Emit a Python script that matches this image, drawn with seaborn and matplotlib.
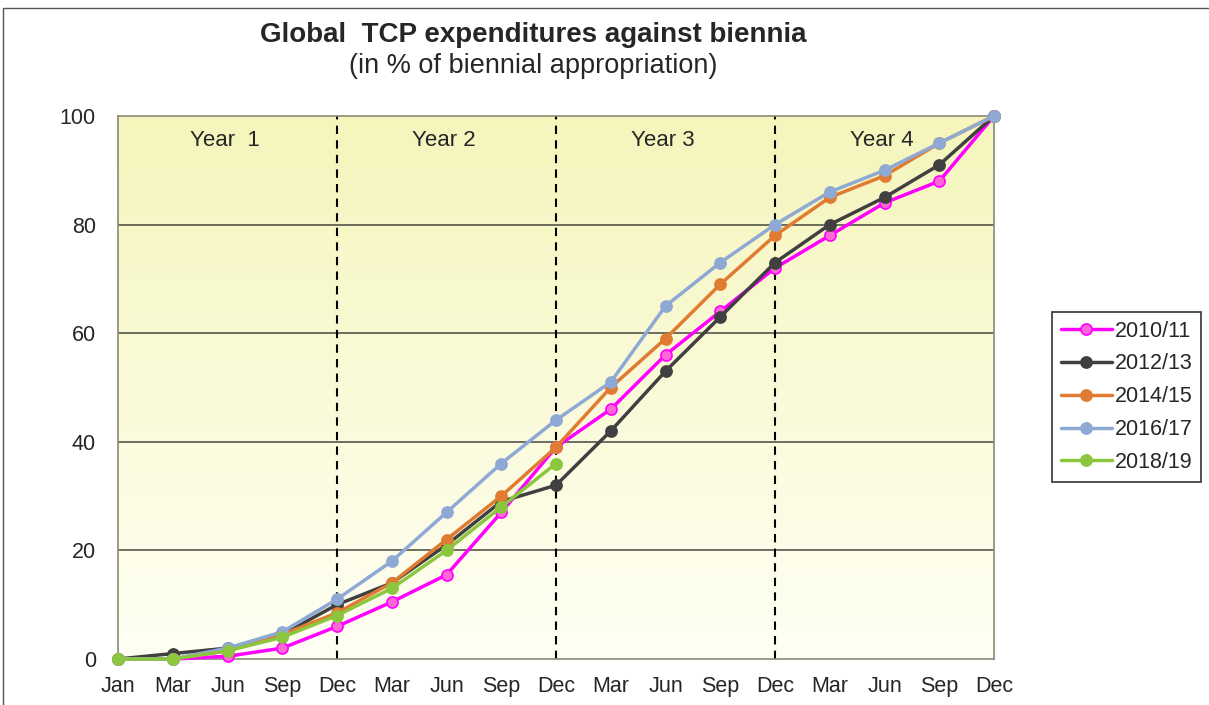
import matplotlib
matplotlib.use("Agg")
import matplotlib.pyplot as plt
import matplotlib.patches as mpatches
from matplotlib.colors import LinearSegmentedColormap
import numpy as np
import pandas as pd
import seaborn as sns

sns.set_theme(style="white")
plt.rcParams["font.family"] = ["Liberation Sans", "DejaVu Sans"]

MONTHS = ["Jan", "Mar", "Jun", "Sep", "Dec", "Mar", "Jun", "Sep", "Dec",
          "Mar", "Jun", "Sep", "Dec", "Mar", "Jun", "Sep", "Dec"]
YEAR_LABELS = ["Year  1", "Year 2", "Year 3", "Year 4"]

s2010 = [0, 0, 0.5, 2, 6, 10.5, 15.5, 27, 39, 46, 56, 64, 72, 78, 84, 88, 100]
s2012 = [0, 1, 2, 4.5, 10, 14, 21, 29, 32, 42, 53, 63, 73, 80, 85, 91, 100]
s2014 = [0, 0, 1.5, 4.5, 8.5, 14, 22, 30, 39, 50, 59, 69, 78, 85, 89, 95, 100]
s2016 = [0, 0, 2, 5, 11, 18, 27, 36, 44, 51, 65, 73, 80, 86, 90, 95, 100]
s2018 = [0, 0, 1.5, 4, 8, 13, 20, 28, 36]

series = {"2010/11": s2010, "2012/13": s2012, "2014/15": s2014,
          "2016/17": s2016, "2018/19": s2018}
colors = {"2010/11": "#FF00FF", "2012/13": "#404040", "2014/15": "#E07C32",
          "2016/17": "#8EA9D4", "2018/19": "#8CC63F"}
faces = {"2010/11": "#FF66D6"}

fig = plt.figure(figsize=(12.09, 7.05), dpi=100)
ax = fig.add_axes([118 / 1209, 1 - 659 / 705, (994 - 118) / 1209, (659 - 116) / 705])

# yellowish gradient background
grad = LinearSegmentedColormap.from_list("bg", ["#FFFFF4", "#F5F5BC"])
ax.imshow(np.linspace(0, 1, 256).reshape(-1, 1), cmap=grad, origin="lower",
          extent=[0, 1, 0, 1], transform=ax.transAxes, aspect="auto", zorder=0)

for name, vals in series.items():
    df = pd.DataFrame({"x": range(len(vals)), "y": vals})
    sns.lineplot(data=df, x="x", y="y", ax=ax, color=colors[name], lw=2.5,
                 marker="o", markersize=8, markeredgewidth=1.2,
                 markerfacecolor=faces.get(name, colors[name]),
                 markeredgecolor=colors[name], label=name, zorder=3,
                 clip_on=False)

for yv in [20, 40, 60, 80]:
    ax.axhline(yv, color="#55554a", lw=1.2, zorder=1)
for xv in [4, 8, 12]:
    ax.axvline(xv, color="black", lw=1.5, ls=(0, (4, 3)), zorder=1)

for i, lab in enumerate(YEAR_LABELS):
    ax.text(2 + 4 * i - 0.05, 95.5, lab, ha="center", va="center", fontsize=16)

ax.set_xlim(0, 16)
ax.set_ylim(0, 100)
ax.set_xticks(range(len(MONTHS)))
ax.set_xticklabels(MONTHS, fontsize=15.5)
ax.set_yticks([0, 20, 40, 60, 80, 100])
ax.set_yticklabels(["0", "20", "40", "60", "80", "100"], fontsize=15.5)
ax.tick_params(axis="x", length=0, pad=12)
ax.tick_params(axis="y", length=0, pad=16)
ax.set_xlabel("")
ax.set_ylabel("")
for sp in ax.spines.values():
    sp.set_color("#8a8a78")
    sp.set_linewidth(1.2)

leg = ax.legend(loc="upper left", bbox_to_anchor=(1052 / 1209, 1 - 312 / 705),
                bbox_transform=fig.transFigure, fontsize=15.5, frameon=True,
                fancybox=False, handlelength=2.4, handletextpad=0.1,
                borderpad=0.4, labelspacing=0.55, borderaxespad=0)
leg.get_frame().set_edgecolor("black")
leg.get_frame().set_linewidth(1.2)

fig.text(533 / 1209, 1 - 35 / 705, "Global  TCP expenditures against biennia",
         ha="center", va="center", fontsize=20, fontweight="bold")
fig.text(533 / 1209, 1 - 66 / 705, "(in % of biennial appropriation)",
         ha="center", va="center", fontsize=19.5)

fig.patches.append(mpatches.Rectangle((3 / 1209, -0.01), 1.0, 1 - 8 / 705 + 0.01,
                                      transform=fig.transFigure, fill=False,
                                      edgecolor="#555555", lw=1.0))

fig.savefig("out.png", dpi=100)
